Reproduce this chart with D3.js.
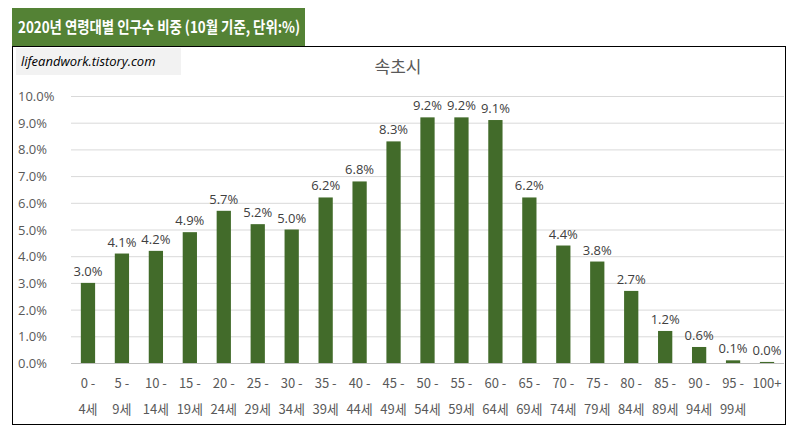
<!DOCTYPE html>
<html><head><meta charset="utf-8">
<script src="https://cdn.jsdelivr.net/npm/d3@7"></script>
<style>body{margin:0;background:#fff;font-family:"Noto Sans CJK KR","Noto Sans",sans-serif}</style>
</head><body>
<svg id="chart" width="791" height="431"></svg>
<script>
"use strict";
const data = [
  {label:["0 -","4세"], v:3.0},{label:["5 -","9세"], v:4.1},{label:["10 -","14세"], v:4.2},
  {label:["15 -","19세"], v:4.9},{label:["20 -","24세"], v:5.7},{label:["25 -","29세"], v:5.2},
  {label:["30 -","34세"], v:5.0},{label:["35 -","39세"], v:6.2},{label:["40 -","44세"], v:6.8},
  {label:["45 -","49세"], v:8.3},{label:["50 -","54세"], v:9.2},{label:["55 -","59세"], v:9.2},
  {label:["60 -","64세"], v:9.1},{label:["65 -","69세"], v:6.2},{label:["70 -","74세"], v:4.4},
  {label:["75 -","79세"], v:3.8},{label:["80 -","84세"], v:2.7},{label:["85 -","89세"], v:1.2},
  {label:["90 -","94세"], v:0.6},{label:["95 -","99세"], v:0.1},{label:["100+",""], v:0.04}
];
const svg = d3.select("#chart");
// banner
svg.append("rect").attr("x",12).attr("y",8).attr("width",293).attr("height",38).attr("fill","#548235");
svg.append("text").attr("x",18).attr("y",33).attr("fill","#fff").attr("font-size",16).attr("font-weight","bold")
  .attr("textLength",282).attr("lengthAdjust","spacingAndGlyphs")
  .text("2020년 연령대별 인구수 비중 (10월 기준, 단위:%)");
// frame
svg.append("rect").attr("x",12.5).attr("y",46.5).attr("width",773).attr("height",378).attr("fill","none").attr("stroke","#000");
svg.append("rect").attr("x",16).attr("y",48).attr("width",165).attr("height",27).attr("fill","#f2f2f2");
svg.append("text").attr("x",21).attr("y",66).attr("font-size",13).attr("font-style","italic").attr("fill","#000")
  .attr("font-family","'Open Sans',sans-serif").text("lifeandwork.tistory.com");
svg.append("text").attr("x",398).attr("y",73).attr("text-anchor","middle").attr("font-size",17).attr("fill","#595959").text("속초시");

const x = d3.scaleBand().domain(data.map((d,i)=>i)).range([71,784]).paddingInner(0.58).paddingOuter(0.29);
const y = d3.scaleLinear().domain([0,10]).range([363,96]);
const ticks = d3.range(0,10.01,1);
svg.append("g").selectAll("line").data(ticks).join("line")
  .attr("x1",71).attr("x2",784).attr("y1",d=>y(d)+0.5).attr("y2",d=>y(d)+0.5)
  .attr("stroke",d=>d===0?"#bfbfbf":"#d9d9d9");
svg.append("g").selectAll("text").data(ticks).join("text")
  .attr("x",18).attr("y",d=>y(d)+5).attr("font-size",13).attr("fill","#595959")
  .attr("font-family","'Open Sans',sans-serif").text(d=>d.toFixed(1)+"%");
svg.append("g").selectAll("rect").data(data).join("rect")
  .attr("x",(d,i)=>x(i)).attr("width",x.bandwidth()).attr("y",d=>y(d.v)).attr("height",d=>y(0)-y(d.v)).attr("fill","#426b2a");
svg.append("g").selectAll("text").data(data).join("text")
  .attr("x",(d,i)=>x(i)+x.bandwidth()/2).attr("y",d=>y(d.v)-7).attr("text-anchor","middle")
  .attr("font-size",13).attr("fill","#404040").attr("font-family","'Open Sans',sans-serif").text(d=>d.v.toFixed(1)+"%");
const lab = svg.append("g").selectAll("text").data(data).join("text")
  .attr("text-anchor","middle").attr("font-size",13).attr("fill","#595959");
lab.append("tspan").attr("x",(d,i)=>x(i)+x.bandwidth()/2).attr("y",388).text(d=>d.label[0]);
lab.append("tspan").attr("x",(d,i)=>x(i)+x.bandwidth()/2).attr("y",414).text(d=>d.label[1]);
</script>
</body></html>
